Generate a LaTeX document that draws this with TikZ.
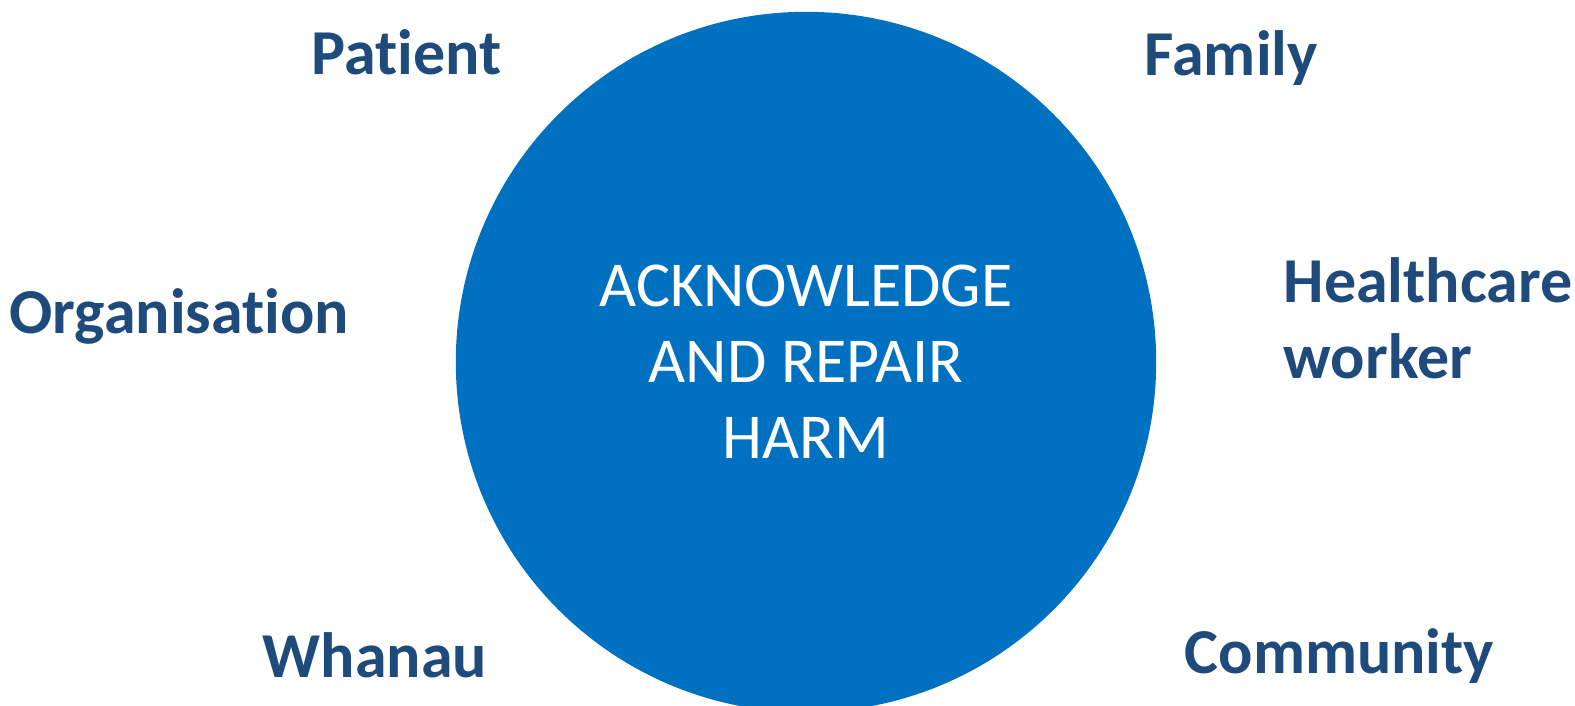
\documentclass[tikz,border=0pt]{standalone}
\usepackage{fontspec}
\setmainfont[Ligatures={NoCommon}]{Carlito}
\usepackage{tikz}
\usetikzlibrary{positioning}
\definecolor{hubblue}{HTML}{0070C0}
\definecolor{partyblue}{HTML}{1F4A7C}

\begin{document}
\begin{tikzpicture}[x=0.01cm,y=-0.01cm]
	\tikzstyle{hub}=[circle,fill=hubblue,text=white,minimum size=7cm,inner sep=0pt,align=center,font=\fontsize{18.2pt}{21.6pt}\selectfont]
	\tikzstyle{party}=[text=partyblue,anchor=base west,inner sep=0pt,align=left,font=\fontsize{18.2pt}{21.6pt}\selectfont\bfseries]
	\useasboundingbox (0,0) rectangle (1575,706);
	\node [hub] (hub) at (806,362) {ACKNOWLEDGE\\AND REPAIR\\HARM};
	% the people around the circle
	\node [party] (patient) at (311,74) {Patient};
	\node [party] (family) at (1144,75) {Family};
	\node [party] (org) at (9,333) {Organisation};
	\node [party] (worker) at (1283,378) {Healthcare\\worker};
	\node [party] (whanau) at (262,677) {Whanau};
	\node [party] (community) at (1184,673) {Community};
\end{tikzpicture}
\end{document}
